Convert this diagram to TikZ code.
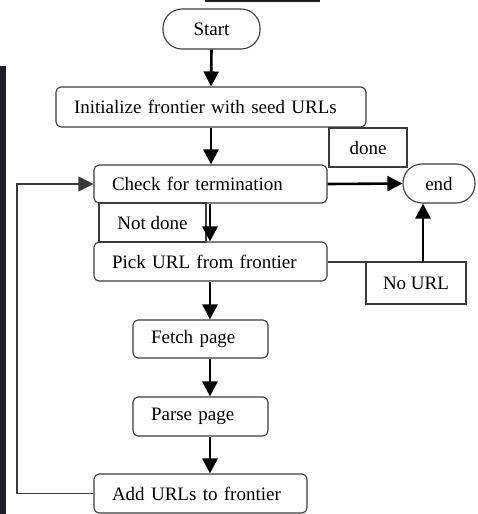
\documentclass[tikz,border=0pt]{standalone}
\usepackage{fontspec}
\setmainfont{Liberation Serif}
\usetikzlibrary{arrows.meta}
\definecolor{bord}{HTML}{3A3A3A}
\definecolor{bar}{HTML}{1E1E24}
\tikzset{
  stepbox/.style={draw=bord, line width=1.1pt, rounded corners=5pt, inner xsep=18pt, inner ysep=0pt, align=left, font=\fontsize{19}{21}\selectfont, anchor=center},
  pill/.style={draw=bord, line width=1.1pt, rounded corners=19pt, inner sep=0pt, font=\fontsize{19}{21}\selectfont, anchor=center},
  lbl/.style={draw=bord, line width=1.1pt, inner sep=0pt, font=\fontsize{19}{21}\selectfont, anchor=center},
  tip/.style={-{Triangle[length=15pt,width=15pt]}},
  flow/.style={line width=2.6pt, tip},
  thin/.style={line width=1.1pt, draw=bord},
}
\begin{document}
\begin{tikzpicture}[x=1pt,y=-1pt]
\useasboundingbox (0,0) rectangle (477,514);
\fill[bar] (0,66) rectangle (6,514);
\fill[bar] (205,0) rectangle (320,1.6);
\node[pill, minimum width=97pt, minimum height=40pt] (start) at (211.5,29) {Start};
\node[stepbox, text width=274pt, minimum height=40pt] (init) at (211,107) {Initialize frontier with seed URLs};
\node[stepbox, text width=197pt, minimum height=38pt] (check) at (210.5,184) {Check for termination};
\node[stepbox, text width=197pt, minimum height=39pt] (pick) at (210.5,261.5) {Pick URL from frontier};
\node[stepbox, text width=99pt, minimum height=38pt] (fetch) at (200.5,339) {Fetch page};
\node[stepbox, text width=99pt, minimum height=39pt] (parse) at (200.5,416.5) {Parse page};
\node[stepbox, text width=177pt, minimum height=39pt] (add) at (200.5,493.5) {Add URLs to frontier};
\node[pill, minimum width=72pt, minimum height=39pt] (endn) at (439,183.5) {end};
\node[lbl, minimum width=78pt, minimum height=39pt] (done) at (368,147.5) {done};
\node[lbl, minimum width=107pt, minimum height=39pt] (notdone) at (152.5,222.5) {Not done};
\node[lbl, minimum width=100pt, minimum height=42pt] (nourl) at (416,283) {No URL};
\coordinate (ax) at (210,0);
\coordinate (turn) at (423,262);
\coordinate (loop) at (17,493.5);
\draw[flow] (start.south) -- (init.north);
\draw[flow] (init.south) -- (check.north -| init.south);
\draw[flow] (check.south -| ax) -- (pick.north -| ax);
\draw[flow] (pick.south -| ax) -- (fetch.north -| ax);
\draw[flow] (fetch.south -| ax) -- (parse.north -| ax);
\draw[flow] (parse.south -| ax) -- (add.north -| ax);
\draw[flow] (check.east) -- (endn.west);
\draw[thin] (pick.east |- turn) -- (turn);
\draw[flow] (turn) -- (turn |- endn.south);
\draw[thin, tip] (add.west) -- (add.west -| loop) |- (check.west);
\end{tikzpicture}
\end{document}
